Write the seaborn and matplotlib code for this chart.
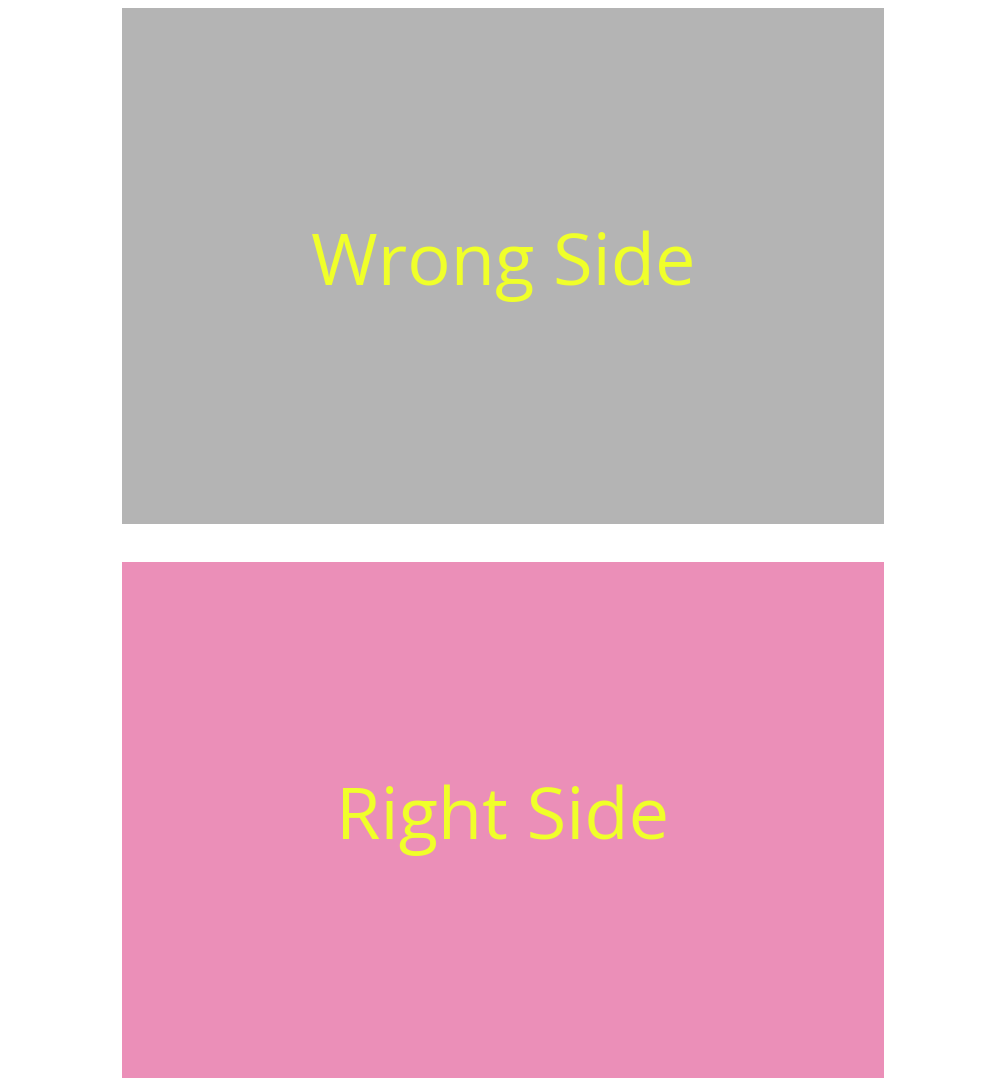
import seaborn as sns
import matplotlib.pyplot as plt

sns.set_theme(style="white")
plt.rcParams["font.family"] = ["Open Sans", "DejaVu Sans"]

panel_labels = ["Wrong Side", "Right Side"]
panel_colors = ["#b4b4b4", "#eb8fb8"]
text_color = "#f0ff2a"

fig = plt.figure(figsize=(9.84, 10.78), dpi=100)
W, H = 984, 1078
boxes = [(122, 8, 762, 516), (122, 562, 762, 516)]

for (x, y, w, h), label, color in zip(boxes, panel_labels, panel_colors):
    ax = fig.add_axes([x / W, 1 - (y + h) / H, w / W, h / H])
    ax.set_facecolor(color)
    ax.set_xticks([])
    ax.set_yticks([])
    for s in ax.spines.values():
        s.set_visible(False)
    ax.text(0.5, 0.5, label, transform=ax.transAxes, ha="center", va="center",
            fontsize=52, color=text_color, fontweight="medium")

fig.savefig("out.png", dpi=100)
